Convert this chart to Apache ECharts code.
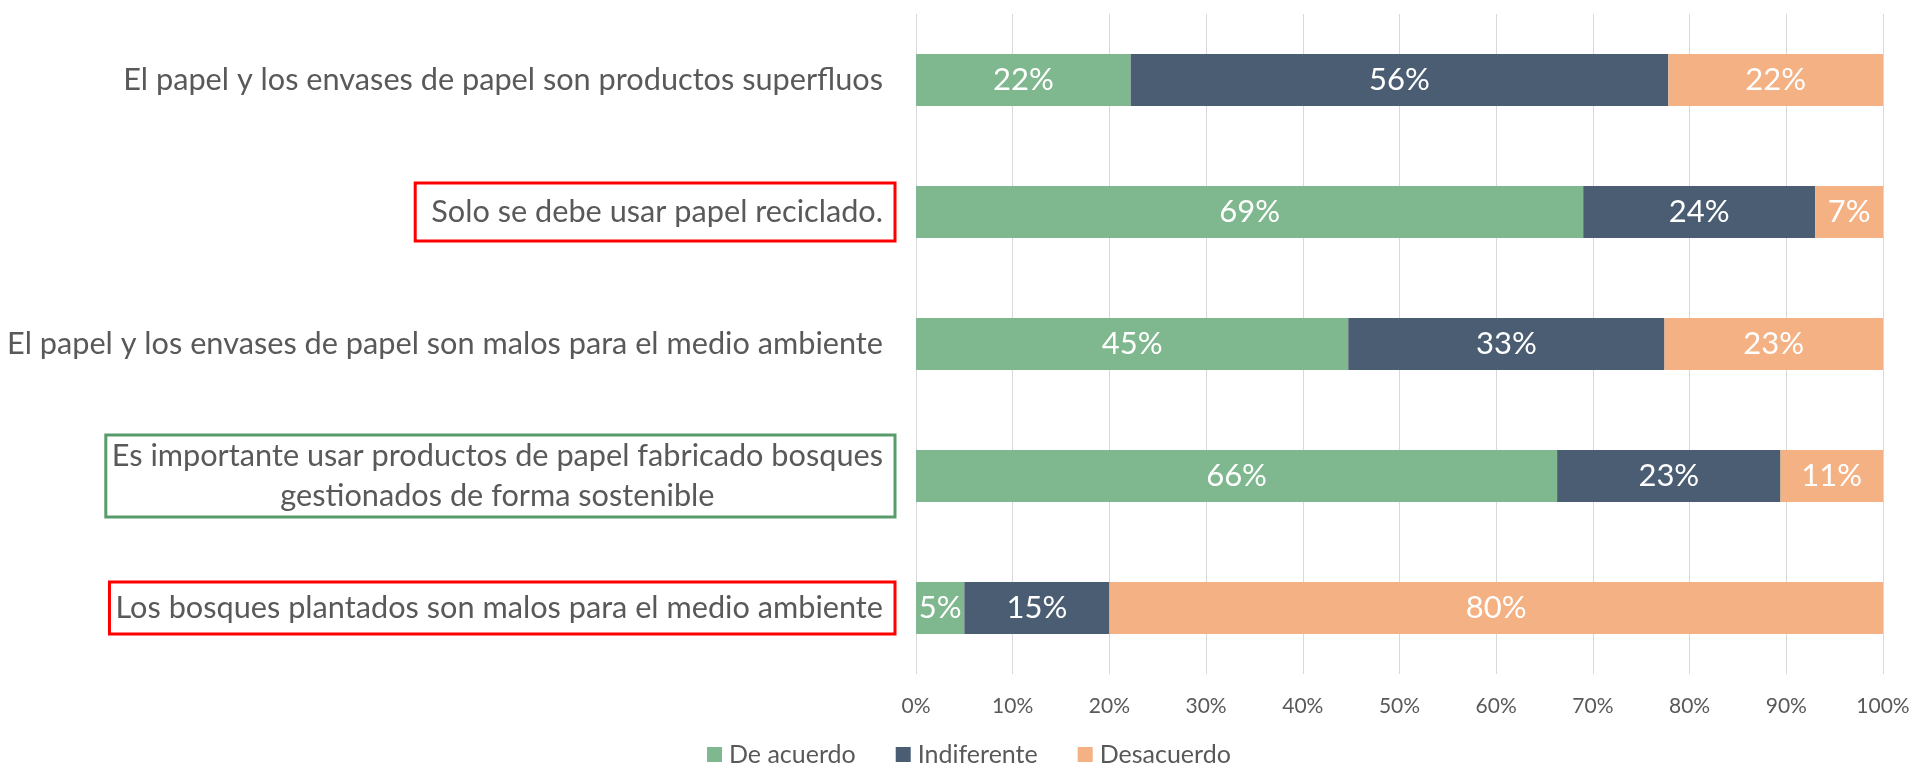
<!DOCTYPE html>
<html>
<head>
    <meta charset="utf-8">
    <title>Papel y bosques</title>
    <script src="https://cdn.jsdelivr.net/npm/echarts@6/dist/echarts.min.js"></script>
    <style type="text/css">
        html, body { margin: 0; padding: 0; background: #fff; }
        #main { width: 1910px; height: 764px; }
    </style>
</head>
<body>
<div id="main"></div>
<script type="text/javascript">
    // datos (porcentaje de respuestas)
    var categorias = [
        'El papel y los envases de papel son productos superfluos',
        'Solo se debe usar papel reciclado.',
        'El papel y los envases de papel son malos para el medio ambiente',
        'Es importante usar productos de papel fabricado bosques\ngestionados de forma sostenible',
        'Los bosques plantados son malos para el medio ambiente'
    ];
    var deAcuerdo = [22.2, 69.0, 44.7, 66.3, 5.0];
    var indiferente = [55.6, 24.0, 32.7, 23.1, 15.0];
    var desacuerdo = [22.2, 7.0, 22.6, 10.6, 80.0];
    var ticksX = [0, 10, 20, 30, 40, 50, 60, 70, 80, 90, 100];

    var gris = '#595959';
    var fuente = 'Lato';

    // recuadros rojo / verde alrededor de algunas etiquetas
    var cajas = {
        1: {borderColor: '#FF0000', borderWidth: 3, padding: [9, 12, 9, 16]},
        3: {borderColor: '#5A9B6C', borderWidth: 3, padding: [1, 12, 1, 6]},
        4: {borderColor: '#FF0000', borderWidth: 3, padding: [6, 12, 6, 6]}
    };
    var datosY = categorias.map(function (c, i) {
        return cajas[i] ? {value: c, textStyle: cajas[i]} : c;
    });

    function serie(nombre, datos, color) {
        return {
            name: nombre,
            type: 'bar',
            stack: 'total',
            barWidth: 52,
            data: datos,
            itemStyle: {color: color},
            label: {
                show: true,
                position: 'inside',
                color: '#fff',
                fontFamily: fuente,
                fontSize: 31,
                formatter: function (p) { return Math.round(p.value) + '%'; }
            }
        };
    }

    var chart = echarts.init(document.getElementById('main'));
    chart.setOption({
        animation: false,
        grid: {left: 916, right: 27, top: 14, bottom: 90, outerBoundsMode: 'none'},
        legend: {
            left: 702,
            top: 737,
            icon: 'rect',
            itemWidth: 15,
            itemHeight: 15,
            itemGap: 40,
            textStyle: {color: gris, fontFamily: fuente, fontSize: 25, padding: [0, 0, 0, 2]},
            data: ['De acuerdo', 'Indiferente', 'Desacuerdo']
        },
        xAxis: {
            type: 'value',
            min: ticksX[0],
            max: ticksX[ticksX.length - 1],
            interval: ticksX[1] - ticksX[0],
            axisLine: {show: false},
            axisTick: {show: false},
            splitLine: {lineStyle: {color: '#D9D9D9', width: 1}},
            axisLabel: {
                color: gris, fontFamily: fuente, fontSize: 21, margin: 22,
                formatter: '{value}%'
            }
        },
        yAxis: {
            type: 'category',
            inverse: true,
            data: datosY,
            axisLine: {show: false},
            axisTick: {show: false},
            axisLabel: {
                interval: 0,
                margin: 21,
                padding: [0, 12, 0, 0],
                color: gris,
                fontFamily: fuente,
                fontSize: 30.7,
                formatter: function (v) {
                    return v.split('\n').map(function (s) { return '{c|' + s + '}'; }).join('\n');
                },
                rich: {
                    c: {align: 'center', color: gris, fontFamily: fuente, fontSize: 30.7, lineHeight: 40}
                }
            }
        },
        series: [
            serie('De acuerdo', deAcuerdo, '#7FB78E'),
            serie('Indiferente', indiferente, '#4A5D72'),
            serie('Desacuerdo', desacuerdo, '#F4B183')
        ]
    });
</script>
</body>
</html>
